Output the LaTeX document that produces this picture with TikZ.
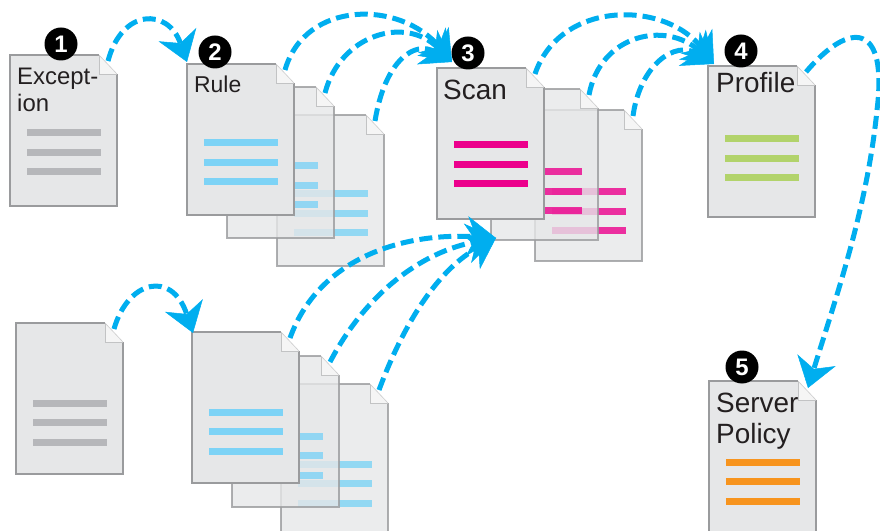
\documentclass[tikz,border=0pt]{standalone}
\usepackage{fontspec}
\setmainfont{Liberation Sans}
\usetikzlibrary{arrows.meta}
\definecolor{docfill}{HTML}{E6E7E8}
\definecolor{docedge}{HTML}{9A9B9D}
\definecolor{flowblue}{HTML}{00AEEF}
\definecolor{lgrey}{HTML}{B6B7BA}
\definecolor{lblue}{HTML}{7DD3F6}
\definecolor{lpink}{HTML}{EC008C}
\definecolor{lgreen}{HTML}{B2D36B}
\definecolor{lorange}{HTML}{F7941E}
\definecolor{ink}{HTML}{231F20}
\tikzset{
  flow/.style={draw=flowblue, line width=5bp, dash pattern=on 13bp off 6bp,
    -{Stealth[length=29bp,width=40bp,inset=9bp,line width=0.5bp]}},
  lbl/.style={inner sep=0pt, anchor=base west, text=ink},
  badge/.style={circle, fill=black, text=white, minimum size=33bp, inner sep=0pt,
    font=\bfseries\fontsize{24}{24}\selectfont},
}
% #1 name, #2 x, #3 y, #4 bar colour, #5 opacity, #6 first bar y
\newcommand\docpage[6]{%
  \begin{scope}[shift={(#2,#3)}]
    \fill[docfill, fill opacity=#5] (0,0) -- (89,0) -- (107,19) -- (107,151) -- (0,151) -- cycle;
    \foreach \k in {0,1,2}{\fill[#4, opacity=#5] (17,#6+\k*19.5-3.5) rectangle ++(74,7);}
    \draw[docedge, line width=1.3bp, draw opacity=#5] (89,0) -- (0,0) -- (0,151) -- (107,151) -- (107,19);
    \fill[white!96!black] (89,0) -- (89,19) -- (107,19) -- cycle;
    \draw[docedge!60, line width=0.6bp] (89,0) -- (89,19) -- (107,19);
    \draw[docedge!50, line width=0.6bp] (89,0) -- (107,19);
    \coordinate (#1-tl) at (0,0);
    \coordinate (#1-f) at (98,6);
  \end{scope}}
\begin{document}
\begin{tikzpicture}[x=1bp, y=-1bp]
\useasboundingbox (0,0) rectangle (880,531);
% ---- documents ----
\docpage{exc}{10}{55}{lgrey}{1}{78}
\docpage{ruleC}{277}{115}{lblue}{0.8}{79}
\docpage{ruleB}{227}{87}{lblue}{0.8}{79}
\docpage{ruleA}{187}{64}{lblue}{1}{79}
\docpage{scanC}{535}{110}{lpink}{0.8}{82}
\docpage{scanB}{491}{89}{lpink}{0.8}{83}
\docpage{scanA}{437}{68}{lpink}{1}{77}
\docpage{prof}{708}{66}{lgreen}{1}{73}
\docpage{serv}{709}{381}{lorange}{1}{81}
\docpage{low}{16}{323}{lgrey}{1}{80}
\docpage{lruleC}{281}{384}{lblue}{0.8}{80}
\docpage{lruleB}{232}{356}{lblue}{0.8}{80}
\docpage{lruleA}{192}{332}{lblue}{1}{80}
% ---- labels ----
\node[lbl, font=\fontsize{24}{24}\selectfont] (tExc1) at (17,85) {Except-};
\node[lbl, font=\fontsize{24}{24}\selectfont] (tExc2) at (17,112) {ion};
\node[lbl, font=\fontsize{23}{23}\selectfont] (tRule) at (194,93) {Rule};
\node[lbl, font=\fontsize{28}{28}\selectfont] (tScan) at (443,100) {Scan};
\node[lbl, font=\fontsize{28}{28}\selectfont] (tProf) at (716,93) {Profile};
\node[lbl, font=\fontsize{28}{28}\selectfont] (tServ1) at (716,412) {Server};
\node[lbl, font=\fontsize{28}{28}\selectfont] (tServ2) at (716,443) {Policy};
% ---- badges ----
\node[badge] (b1) at (61,44) {1};
\node[badge] (b2) at (215,52) {2};
\node[badge] (b3) at (468,53) {3};
\node[badge] (b4) at (741,51) {4};
\node[badge] (b5) at (742,367) {5};
% ---- arrow targets ----
\coordinate (tipRule) at (187,62);
\coordinate (tipScan) at (452,62);
\coordinate (tipProf) at (714,64);
\coordinate (tipServ) at (808,388);
\coordinate (tipLow) at (193,333);
\coordinate (tipScanLow) at (496,238);
% ---- arrows ----
\draw[flow] (exc-f) .. controls (122,8) and (168,8) .. (tipRule);
\draw[flow] (ruleA-f) .. controls (305,0) and (400,0) .. (tipScan);
\draw[flow] (ruleB-f) .. controls (340,35) and (405,15) .. (tipScan);
\draw[flow] (ruleC-f) .. controls (385,60) and (415,40) .. (tipScan);
\draw[flow] (scanA-f) .. controls (560,0) and (665,0) .. (tipProf);
\draw[flow] (scanB-f) .. controls (600,35) and (665,20) .. (tipProf);
\draw[flow] (scanC-f) .. controls (640,65) and (675,40) .. (tipProf);
\draw[flow] (prof-f) .. controls (850,20) and (888,22) .. (877,110) .. controls (867,210) and (835,300) .. (tipServ);
\draw[flow] (low-f) .. controls (128,280) and (172,270) .. (tipLow);
\draw[flow] (lruleA-f) .. controls (318,260) and (400,232) .. (tipScanLow);
\draw[flow] (lruleB-f) .. controls (365,295) and (420,252) .. (tipScanLow);
\draw[flow] (lruleC-f) .. controls (405,320) and (440,268) .. (tipScanLow);
\end{tikzpicture}
\end{document}
